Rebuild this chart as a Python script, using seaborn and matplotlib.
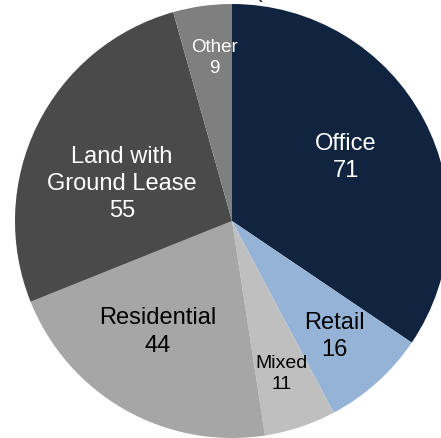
import matplotlib
matplotlib.use("Agg")
import matplotlib.pyplot as plt
import seaborn as sns
import numpy as np

# Portfolio breakdown by property type
categories = ["Office", "Retail", "Mixed", "Residential", "Land with\nGround Lease", "Other"]
values = [71, 16, 11, 44, 55, 9]
colors = ["#10243F", "#95B3D7", "#BFBFBF", "#A6A6A6", "#4A4A4A", "#7F7F7F"]
text_colors = ["white", "black", "black", "black", "white", "white"]
font_sizes = [17, 17, 14, 17, 17, 13.5]
label_radius = [0.60, 0.71, 0.74, 0.615, 0.535, 0.757]
angle_nudge = [1.3, -0.4, -0.45, -4.0, 7.6, -1.8]

sns.set_theme(style="white")
plt.rcParams["font.family"] = ["Liberation Sans", "DejaVu Sans"]

W, H, DPI = 441, 438, 100
fig = plt.figure(figsize=(W / DPI, H / DPI), dpi=DPI)
ax = fig.add_axes([0, 0, 1, 1])

wedges, _ = ax.pie(values, colors=colors, startangle=90, counterclock=False,
                   radius=1.0, wedgeprops=dict(linewidth=0))

for w, name, val, tc, fs, r, nud in zip(wedges, categories, values, text_colors,
                                          font_sizes, label_radius, angle_nudge):
    mid = np.deg2rad((w.theta1 + w.theta2) / 2 + nud)
    ax.text(r * np.cos(mid), r * np.sin(mid), f"{name}\n{val}", ha="center", va="center",
            color=tc, fontsize=fs, linespacing=1.32)

# Pie centre sits left of middle and runs past the right and bottom edges
cx, cy, rad = 232, 221, 217
ax.set_xlim(-cx / rad, (W - cx) / rad)
ax.set_ylim(-(H - cy) / rad, cy / rad)
ax.set_aspect("auto")
ax.axis("off")

fig.text(256 / W, 1 + 6 / H, "(", ha="left", va="center", fontsize=14, color="black")

fig.savefig("out.png", dpi=DPI)
